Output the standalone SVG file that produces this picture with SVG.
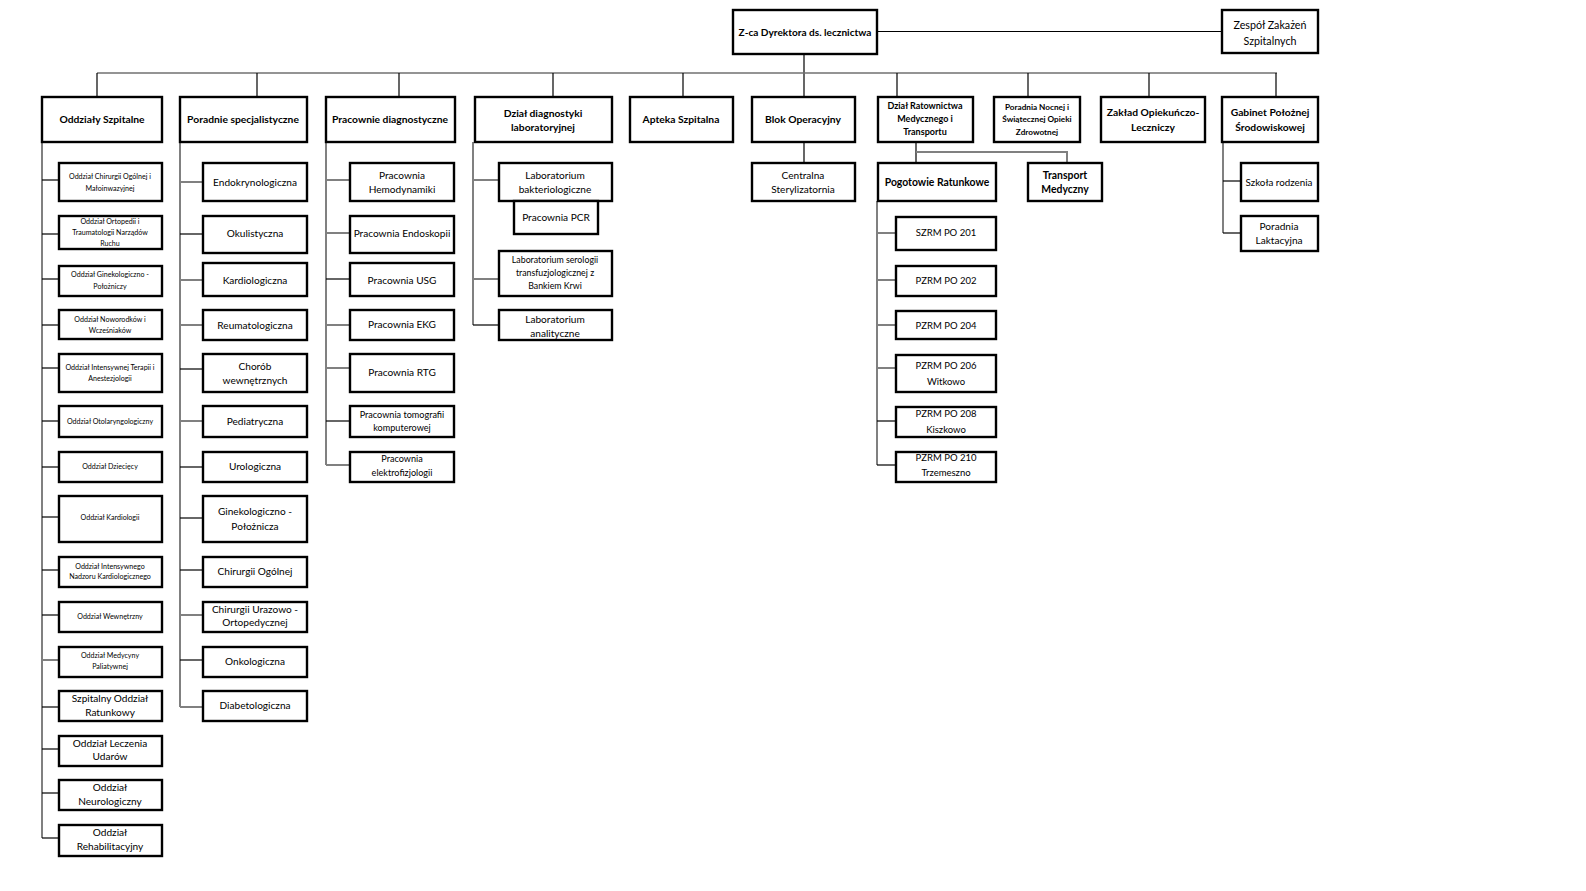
<svg xmlns="http://www.w3.org/2000/svg" width="1586" height="891" viewBox="0 0 1586 891">
<style>
rect{fill:#fff;stroke:#000;stroke-width:2.4}
text{font-family:Lato,"Open Sans","Liberation Sans",sans-serif;text-anchor:middle;fill:#000;font-size:10.1px}
.b{font-weight:bold;font-size:10.3px}
.s{font-size:7.1px}
.m{font-size:9.1px}
.r{font-size:10.1px}
.p{font-size:9.5px}
.c line,.c polyline{stroke:#000;stroke-width:1.2;fill:none}
.c .g{stroke:#808080;stroke-width:2}
</style>
<rect x="0" y="0" width="1586" height="891" style="fill:#fff;stroke:none"/>
<g id="connectors" class="c">
<line x1="877" y1="31.5" x2="1222" y2="31.5"/>
<line x1="804" y1="54" x2="804" y2="97"/>
<line class="g" x1="97" y1="73" x2="1277" y2="73" style="stroke-width:1.6;stroke:#707070"/>
<line x1="97" y1="73" x2="97" y2="97"/>
<line x1="257" y1="73" x2="257" y2="97"/>
<line x1="399" y1="73" x2="399" y2="97"/>
<line x1="553" y1="73" x2="553" y2="97"/>
<line x1="683" y1="73" x2="683" y2="97"/>
<line x1="897" y1="73" x2="897" y2="97"/>
<line x1="1028" y1="73" x2="1028" y2="97"/>
<line x1="1149" y1="73" x2="1149" y2="97"/>
<line x1="1276" y1="73" x2="1276" y2="97"/>
<!-- Oddzialy -->
<line class="g" x1="42" y1="142" x2="42" y2="838"/>
<line x1="42" y1="180" x2="59" y2="180"/>
<line x1="42" y1="234" x2="59" y2="234"/>
<line x1="42" y1="279" x2="59" y2="279"/>
<line x1="42" y1="325" x2="59" y2="325"/>
<line x1="42" y1="368" x2="59" y2="368"/>
<line x1="42" y1="421" x2="59" y2="421"/>
<line x1="42" y1="467" x2="59" y2="467"/>
<line x1="42" y1="517" x2="59" y2="517"/>
<line x1="42" y1="570" x2="59" y2="570"/>
<line x1="42" y1="615" x2="59" y2="615"/>
<line class="g" x1="42" y1="660" x2="59" y2="660"/>
<line x1="42" y1="707" x2="59" y2="707"/>
<line x1="42" y1="749" x2="59" y2="749"/>
<line x1="42" y1="793" x2="59" y2="793"/>
<line x1="42" y1="838" x2="59" y2="838"/>
<!-- Poradnie -->
<line class="g" x1="180" y1="142" x2="180" y2="707"/>
<line class="g" x1="180" y1="182" x2="203" y2="182"/>
<line x1="180" y1="234" x2="203" y2="234"/>
<line class="g" x1="180" y1="280" x2="203" y2="280"/>
<line class="g" x1="180" y1="325" x2="203" y2="325"/>
<line x1="180" y1="369" x2="203" y2="369"/>
<line class="g" x1="180" y1="421" x2="203" y2="421"/>
<line x1="180" y1="467" x2="203" y2="467"/>
<line x1="180" y1="518" x2="203" y2="518"/>
<line x1="180" y1="570" x2="203" y2="570"/>
<line class="g" x1="180" y1="615" x2="203" y2="615"/>
<line x1="180" y1="660" x2="203" y2="660"/>
<line class="g" x1="180" y1="707" x2="203" y2="707"/>
<!-- Pracownie -->
<line class="g" x1="326" y1="142" x2="326" y2="465"/>
<line class="g" x1="326" y1="180" x2="350" y2="180"/>
<line class="g" x1="326" y1="233" x2="350" y2="233"/>
<line x1="326" y1="279" x2="350" y2="279"/>
<line class="g" x1="326" y1="325" x2="350" y2="325"/>
<line class="g" x1="326" y1="368" x2="350" y2="368"/>
<line x1="326" y1="421" x2="350" y2="421"/>
<line class="g" x1="326" y1="465" x2="350" y2="465"/>
<!-- Lab -->
<line class="g" x1="473" y1="142" x2="473" y2="325"/>
<line class="g" x1="473" y1="180" x2="499" y2="180"/>
<line class="g" x1="473" y1="279" x2="499" y2="279"/>
<line x1="473" y1="325" x2="499" y2="325"/>
<!-- Blok -->
<line x1="804" y1="142" x2="804" y2="163"/>
<!-- Dzial Ratownictwa -->
<line x1="916" y1="142" x2="916" y2="163"/>
<polyline class="g" points="916,152 1067,152 1067,163"/>
<!-- Pogotowie -->
<line class="g" x1="877" y1="201" x2="877" y2="465"/>
<line class="g" x1="877" y1="233" x2="896" y2="233"/>
<line class="g" x1="877" y1="280" x2="896" y2="280"/>
<line class="g" x1="877" y1="325" x2="896" y2="325"/>
<line class="g" x1="877" y1="368" x2="896" y2="368"/>
<line x1="877" y1="421" x2="896" y2="421"/>
<line x1="877" y1="465" x2="896" y2="465"/>
<!-- Gabinet -->
<line class="g" x1="1223" y1="142" x2="1223" y2="233"/>
<line x1="1223" y1="181" x2="1241" y2="181"/>
<line x1="1223" y1="233" x2="1241" y2="233"/>
</g>

<g id="zca"><rect x="733" y="10" width="144" height="44"/><text class="b" x="805" y="35.5" style="font-size:10.1px">Z-ca Dyrektora ds. lecznictwa</text></g>
<g id="zespol"><rect x="1222" y="10" width="96" height="43"/><text x="1270" y="28.5" style="font-size:10.7px">Zespół Zakażeń</text><text x="1270" y="44.5" style="font-size:10.7px">Szpitalnych</text></g>

<g id="oddzialy"><rect x="42" y="97" width="120" height="45"/><text class="b" x="102" y="123">Oddziały Szpitalne</text></g>
<g id="poradnie"><rect x="180" y="97" width="127" height="45"/><text class="b" x="243" y="123">Poradnie specjalistyczne</text></g>
<g id="pracownie"><rect x="326" y="97" width="129" height="45"/><text class="b" x="390" y="123">Pracownie diagnostyczne</text></g>
<g id="dzial-lab"><rect x="475" y="97" width="137" height="45"/><text class="b" x="543" y="117">Dział diagnostyki</text><text class="b" x="543" y="130.5">laboratoryjnej</text></g>
<g id="apteka"><rect x="630" y="97" width="103" height="45"/><text class="b" x="681" y="122.5">Apteka Szpitalna</text></g>
<g id="blok"><rect x="752" y="97" width="103" height="45"/><text class="b" x="803" y="123">Blok Operacyjny</text></g>
<g id="ratownictwo"><rect x="878" y="97" width="95" height="45"/><text class="b" x="925" y="108.5" style="font-size:9px">Dział Ratownictwa</text><text class="b" x="925" y="121.5" style="font-size:9px">Medycznego i</text><text class="b" x="925" y="134.5" style="font-size:9px">Transportu</text></g>
<g id="poradnia-nocna"><rect x="994" y="97" width="86" height="45"/><text class="b" x="1037" y="109.5" style="font-size:8.2px">Poradnia Nocnej i</text><text class="b" x="1037" y="121.5" style="font-size:8.2px">Świątecznej Opieki</text><text class="b" x="1037" y="134.5" style="font-size:8.2px">Zdrowotnej</text></g>
<g id="zaklad"><rect x="1101" y="97" width="104" height="45"/><text class="b" x="1153" y="116">Zakład Opiekuńczo-</text><text class="b" x="1153" y="130.5">Leczniczy</text></g>
<g id="gabinet"><rect x="1222" y="97" width="96" height="45"/><text class="b" x="1270" y="116">Gabinet Położnej</text><text class="b" x="1270" y="130.5">Środowiskowej</text></g>

<!-- Oddzialy children -->
<g id="o1"><rect x="59" y="163" width="103" height="38"/><text class="s" x="110" y="179">Oddział Chirurgii Ogólnej i</text><text class="s" x="110" y="191">Małoinwazyjnej</text></g>
<g id="o2"><rect x="59" y="216" width="103" height="33"/><text class="s" x="110" y="224">Oddział Ortopedii i</text><text class="s" x="110" y="235">Traumatologii Narządów</text><text class="s" x="110" y="246">Ruchu</text></g>
<g id="o3"><rect x="59" y="266" width="103" height="30"/><text class="s" x="110" y="277">Oddział Ginekologiczno -</text><text class="s" x="110" y="289">Położniczy</text></g>
<g id="o4"><rect x="59" y="310" width="103" height="29"/><text class="s" x="110" y="322">Oddział Noworodków i</text><text class="s" x="110" y="333">Wcześniaków</text></g>
<g id="o5"><rect x="59" y="354" width="103" height="38"/><text class="s" x="110" y="370">Oddział Intensywnej Terapii i</text><text class="s" x="110" y="381">Anestezjologii</text></g>
<g id="o6"><rect x="59" y="406" width="103" height="31"/><text class="s" x="110" y="424">Oddział Otolaryngologiczny</text></g>
<g id="o7"><rect x="59" y="452" width="103" height="30"/><text class="s" x="110" y="469">Oddział Dziecięcy</text></g>
<g id="o8"><rect x="59" y="496" width="103" height="46"/><text class="s" x="110" y="520">Oddział Kardiologii</text></g>
<g id="o9"><rect x="59" y="557" width="103" height="30"/><text class="s" x="110" y="569">Oddział Intensywnego</text><text class="s" x="110" y="579">Nadzoru Kardiologicznego</text></g>
<g id="o10"><rect x="59" y="602" width="103" height="30"/><text class="s" x="110" y="619">Oddział Wewnętrzny</text></g>
<g id="o11"><rect x="59" y="647" width="103" height="30"/><text class="s" x="110" y="658">Oddział Medycyny</text><text class="s" x="110" y="669">Paliatywnej</text></g>
<g id="o12"><rect x="59" y="691" width="103" height="30"/><text x="110" y="701.5">Szpitalny Oddział</text><text x="110" y="716">Ratunkowy</text></g>
<g id="o13"><rect x="59" y="736" width="103" height="30"/><text x="110" y="747">Oddział Leczenia</text><text x="110" y="760">Udarów</text></g>
<g id="o14"><rect x="59" y="780" width="103" height="30"/><text x="110" y="791">Oddział</text><text x="110" y="805">Neurologiczny</text></g>
<g id="o15"><rect x="59" y="825" width="103" height="31"/><text x="110" y="836">Oddział</text><text x="110" y="850">Rehabilitacyjny</text></g>

<!-- Poradnie children -->
<g id="p1"><rect x="203" y="163" width="104" height="38"/><text x="255" y="186">Endokrynologiczna</text></g>
<g id="p2"><rect x="203" y="216" width="104" height="37"/><text x="255" y="237">Okulistyczna</text></g>
<g id="p3"><rect x="203" y="263" width="104" height="33"/><text x="255" y="284">Kardiologiczna</text></g>
<g id="p4"><rect x="203" y="310" width="104" height="30"/><text x="255" y="329">Reumatologiczna</text></g>
<g id="p5"><rect x="203" y="354" width="104" height="38"/><text x="255" y="370">Chorób</text><text x="255" y="384">wewnętrznych</text></g>
<g id="p6"><rect x="203" y="406" width="104" height="31"/><text x="255" y="425">Pediatryczna</text></g>
<g id="p7"><rect x="203" y="452" width="104" height="30"/><text x="255" y="470">Urologiczna</text></g>
<g id="p8"><rect x="203" y="496" width="104" height="46"/><text x="255" y="515">Ginekologiczno -</text><text x="255" y="530">Położnicza</text></g>
<g id="p9"><rect x="203" y="557" width="104" height="30"/><text x="255" y="575">Chirurgii Ogólnej</text></g>
<g id="p10"><rect x="203" y="602" width="104" height="30"/><text x="255" y="613">Chirurgii Urazowo -</text><text x="255" y="626">Ortopedycznej</text></g>
<g id="p11"><rect x="203" y="647" width="104" height="30"/><text x="255" y="665">Onkologiczna</text></g>
<g id="p12"><rect x="203" y="691" width="104" height="30"/><text x="255" y="709">Diabetologiczna</text></g>

<!-- Pracownie children -->
<g id="d1"><rect x="350" y="163" width="104" height="38"/><text x="402" y="179">Pracownia</text><text x="402" y="193">Hemodynamiki</text></g>
<g id="d2"><rect x="350" y="216" width="104" height="37"/><text x="402" y="237">Pracownia Endoskopii</text></g>
<g id="d3"><rect x="350" y="263" width="104" height="33"/><text x="402" y="284">Pracownia USG</text></g>
<g id="d4"><rect x="350" y="310" width="104" height="30"/><text x="402" y="328">Pracownia EKG</text></g>
<g id="d5"><rect x="350" y="354" width="104" height="38"/><text x="402" y="376">Pracownia RTG</text></g>
<g id="d6"><rect x="350" y="406" width="104" height="31"/><text class="m" x="402" y="418">Pracownia tomografii</text><text class="m" x="402" y="431">komputerowej</text></g>
<g id="d7"><rect x="350" y="452" width="104" height="30"/><text class="m" x="402" y="462">Pracownia</text><text class="m" x="402" y="476">elektrofizjologii</text></g>

<!-- Lab children -->
<g id="l1"><rect x="499" y="163" width="113" height="38"/><text x="555" y="179">Laboratorium</text><text x="555" y="192.5">bakteriologiczne</text></g>
<g id="l1a"><rect x="514" y="201" width="84" height="33"/><text x="556" y="221">Pracownia PCR</text></g>
<g id="l2"><rect x="499" y="251" width="113" height="45"/><text x="555" y="262.5" style="font-size:8.8px">Laboratorium serologii</text><text x="555" y="275.5" style="font-size:8.8px">transfuzjologicznej z</text><text x="555" y="288.5" style="font-size:8.8px">Bankiem Krwi</text></g>
<g id="l3"><rect x="499" y="310" width="113" height="30"/><text x="555" y="323">Laboratorium</text><text x="555" y="336.5">analityczne</text></g>

<g id="centralna"><rect x="752" y="163" width="103" height="38"/><text x="803" y="179">Centralna</text><text x="803" y="192.5">Sterylizatornia</text></g>
<g id="pogotowie"><rect x="878" y="163" width="118" height="38"/><text class="b" x="937" y="186" style="font-size:10.4px">Pogotowie Ratunkowe</text></g>
<g id="transport"><rect x="1028" y="163" width="74" height="38"/><text class="b" x="1065" y="179" style="font-size:10.4px">Transport</text><text class="b" x="1065" y="192.5" style="font-size:10.4px">Medyczny</text></g>

<g id="r1"><rect x="896" y="217" width="100" height="33"/><text class="p" x="946" y="236">SZRM PO 201</text></g>
<g id="r2"><rect x="896" y="266" width="100" height="30"/><text class="p" x="946" y="284">PZRM PO 202</text></g>
<g id="r3"><rect x="896" y="311" width="100" height="28"/><text class="p" x="946" y="329">PZRM PO 204</text></g>
<g id="r4"><rect x="896" y="355" width="100" height="37"/><text class="p" x="946" y="369">PZRM PO 206</text><text class="p" x="946" y="385">Witkowo</text></g>
<g id="r5"><rect x="896" y="407" width="100" height="30"/><text class="p" x="946" y="417">PZRM PO 208</text><text class="p" x="946" y="433">Kiszkowo</text></g>
<g id="r6"><rect x="896" y="452" width="100" height="30"/><text class="p" x="946" y="461">PZRM PO 210</text><text class="p" x="946" y="476">Trzemeszno</text></g>

<g id="szkola"><rect x="1241" y="163" width="77" height="38"/><text x="1279" y="186" style="font-size:9.8px">Szkoła rodzenia</text></g>
<g id="laktacyjna"><rect x="1241" y="216" width="77" height="35"/><text x="1279" y="230">Poradnia</text><text x="1279" y="244">Laktacyjna</text></g>
</svg>
